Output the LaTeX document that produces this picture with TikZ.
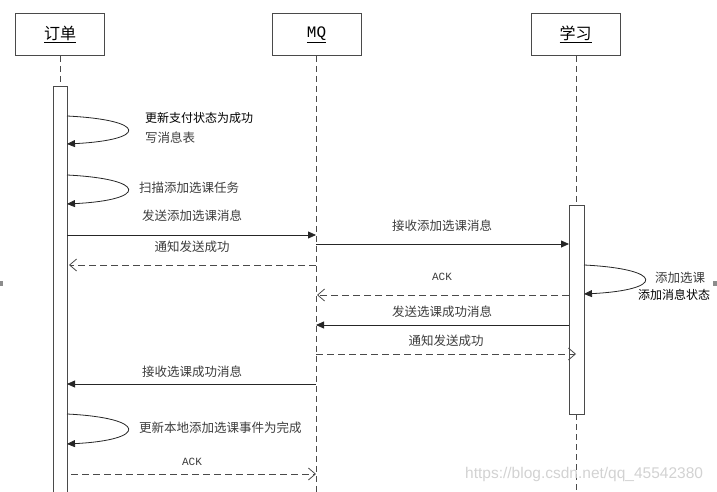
\documentclass[tikz,border=0pt]{standalone}
\usepackage{fontspec}
\setmainfont{Noto Sans CJK SC}
\newfontfamily\monofont{Liberation Mono}
\newfontfamily\wmfont{Liberation Sans}
\usetikzlibrary{arrows.meta}
\definecolor{lineG}{HTML}{4A4A4A}
\definecolor{textG}{HTML}{3C3C3C}
\definecolor{markG}{HTML}{8C8C8C}
\definecolor{wmG}{HTML}{D2D2D2}

\tikzset{
  actor/.style={draw=lineG, line width=0.8pt, minimum width=89pt, minimum height=42pt,
    inner sep=0pt, font=\fontsize{16}{18}\selectfont},
  life/.style={lineG, line width=0.8pt, dash pattern=on 6pt off 4pt},
  bar/.style={draw=lineG, fill=white, line width=0.9pt},
  call/.style={black!85, line width=0.8pt, -{Triangle[length=8pt,width=7pt]}},
  reply/.style={lineG, line width=0.8pt, dash pattern=on 7pt off 4pt,
    -{Straight Barb[length=7pt,width=12pt]}},
  msg/.style={textG, inner sep=0pt, font=\fontsize{12.5}{14}\selectfont},
  note/.style={black, inner sep=0pt, font=\fontsize{12}{14}\selectfont},
}

\begin{document}
\begin{tikzpicture}[x=1pt, y=-1pt]
  \useasboundingbox (0,0) rectangle (717,492);
  \def\oL{53}   % order bar left
  \def\oR{67}   % order bar right
  \def\mq{316}  % MQ lifeline
  \def\sL{569}  % study bar left
  \def\sR{584}  % study bar right
  % participants
  \node[actor] (order) at (60,34.5) {\underline{订单}};
  \node[actor] (mq) at (316.5,34.5) {\monofont\underline{MQ}};
  \node[actor] (study) at (575.5,34.5) {\underline{学习}};
  % lifelines
  \coordinate (order-on) at (60,86);
  \coordinate (mq-end) at (316,492);
  \coordinate (study-on) at (576,205);
  \coordinate (study-off) at (576,414);
  \coordinate (study-end) at (576,492);
  \draw[life] (order.south) -- (order-on);
  \draw[life] (mq.south -| mq-end) -- (mq-end);
  \draw[life] (study.south -| study-on) -- (study-on);
  \draw[life] (study-off) -- (study-end);
  % activation bars
  \fill[white] (\oL,86) rectangle (\oR,492);
  \draw[lineG, line width=0.9pt] (\oL,492) -- (\oL,86) -- (\oR,86) -- (\oR,492);
  \node[bar, minimum width=15pt, minimum height=209pt, inner sep=0pt] (sbar) at (576.5,309.5) {};
  % messages: name / from x / to x / y / style
  \foreach \n/\xa/\xb/\yy/\st in {%
     send/\oR/\mq/235/call, sendok/\mq/69/265/reply,
     recv/\mq/\sL/244/call, ack/\sL/317/295/reply,
     done/\sL/\mq/325/call, doneok/\mq/576/354/reply,
     back/\mq/\oR/384/call, ackb/71/316/474/reply}{
     \coordinate (\n-a) at (\xa,\yy);
     \coordinate (\n-b) at (\xb,\yy);
     \draw[\st] (\n-a) -- (\n-b);
  }
  % self calls: name / x / top y / bottom y
  \foreach \n/\xx/\ya/\yb in {pay/\oR/116/144, scan/\oR/175/204,
     add/\sR/265/294, local/\oR/414/444}{
     \coordinate (\n-a) at (\xx,\ya);
     \coordinate (\n-b) at (\xx,\yb);
     \draw[call] (\n-a) .. controls (\xx+81,\ya+4) and (\xx+81,\yb-4) .. (\n-b);
  }
  % labels
  \node[note, anchor=west] (t-pay) at (145,118) {更新支付状态为成功};
  \node[msg, anchor=west] (t-table) at (145,137.5) {写消息表};
  \node[msg, anchor=west] (t-scan) at (139,188) {扫描添加选课任务};
  \node[msg] (t-send) at (192,216) {发送添加选课消息};
  \node[msg] (t-sendok) at (192,246.5) {通知发送成功};
  \node[msg] (t-recv) at (442,226) {接收添加选课消息};
  \node[msg, font=\monofont\fontsize{11}{13}\selectfont] (t-ack) at (442,276.5) {ACK};
  \node[msg] (t-done) at (442,312) {发送选课成功消息};
  \node[msg] (t-doneok) at (446,341) {通知发送成功};
  \node[msg] (t-back) at (192,372) {接收选课成功消息};
  \node[msg, anchor=west] (t-local) at (139,428) {更新本地添加选课事件为完成};
  \node[msg, font=\monofont\fontsize{11}{13}\selectfont] (t-ackb) at (192,461.5) {ACK};
  \node[msg] (t-add) at (680,278) {添加选课};
  \node[note] (t-state) at (674,295) {添加消息状态};
  % handles and watermark
  \fill[markG] (0,281) rectangle (3,286);
  \fill[markG] (713,281) rectangle (717,286);
  \node[wmG, anchor=west, inner sep=0pt, font=\wmfont\fontsize{15.5}{17}\selectfont]
     (mark) at (465,474) {https://blog.csdn.net/qq\_45542380};
\end{tikzpicture}
\end{document}
